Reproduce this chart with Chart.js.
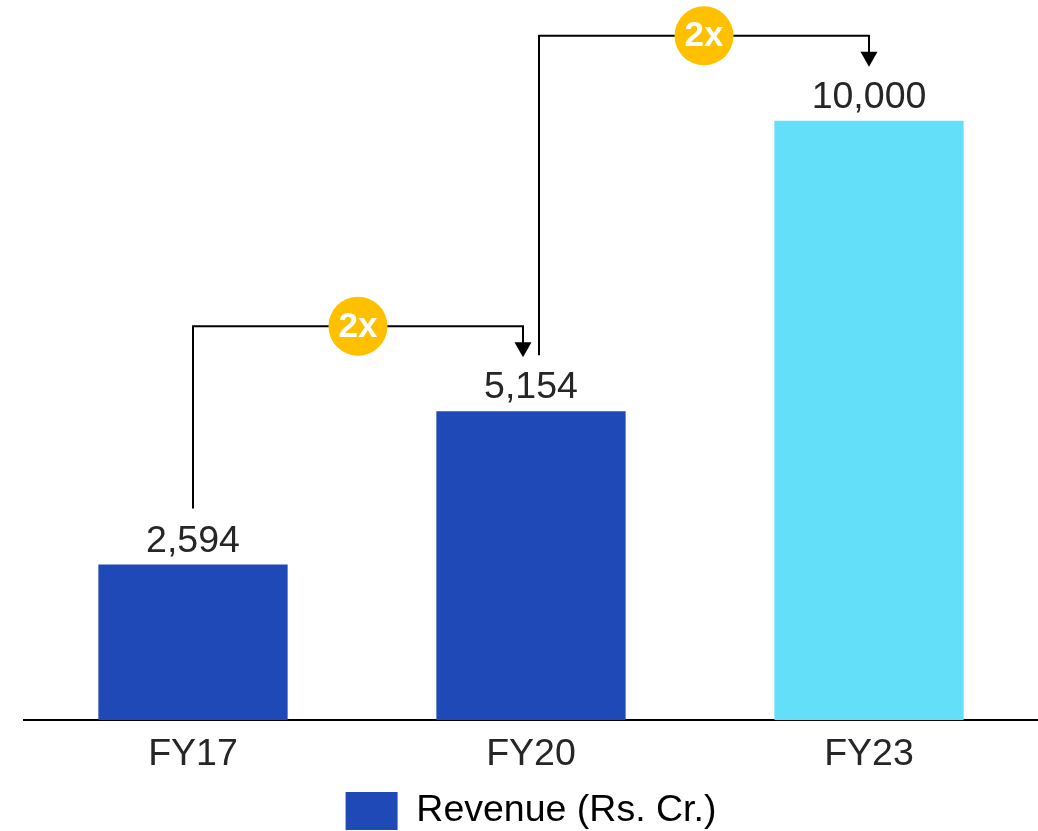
<!DOCTYPE html>
<html><head><meta charset="utf-8">
<script src="https://cdn.jsdelivr.net/npm/chart.js@4/dist/chart.umd.min.js"></script>
<style>html,body{margin:0;padding:0;background:#fff}#wrap{width:1038px;height:831px;position:relative}</style>
</head><body><div id="wrap"><canvas id="c"></canvas></div>
<script>
const categories = ['FY17', 'FY20', 'FY23'];
const revenue = [2594, 5154, 10000];
const seriesLabel = 'Revenue (Rs. Cr.)';
const growthFrom = [0, 1];
const growthTo = [1, 2];
const growthLabels = ['2x', '2x'];

const barColors = ['#1E49B7', '#1E49B7', '#63DFF9'];
const FONT = '"Liberation Sans", Arial, Helvetica, sans-serif';
const TEXT = '#262626';
const FS = 37.5;
Chart.defaults.font.family = FONT;

const valueLabels = {
  id: 'valueLabels',
  afterDatasetsDraw(chart) {
    const ctx = chart.ctx;
    const meta = chart.getDatasetMeta(0);
    ctx.save();
    ctx.font = FS + 'px ' + FONT;
    ctx.fillStyle = TEXT;
    ctx.textAlign = 'center';
    ctx.textBaseline = 'alphabetic';
    meta.data.forEach((bar, i) => {
      ctx.fillText(revenue[i].toLocaleString('en-US'), bar.x, bar.y - 13);
    });
    ctx.restore();
  }
};

const growthBrackets = {
  id: 'growthBrackets',
  afterDatasetsDraw(chart) {
    const ctx = chart.ctx;
    const bars = chart.getDatasetMeta(0).data;
    ctx.save();
    growthFrom.forEach((from, k) => {
      const to = growthTo[k];
      const src = bars[from], dst = bars[to];
      const srcHasIn = growthTo.includes(from);
      const dstHasOut = growthFrom.includes(to);
      const x1 = src.x + (srcHasIn ? 8 : 0);
      const x2 = dst.x - (dstHasOut ? 8 : 0);
      const yStart = src.y - 56;
      const yTop = dst.y - 85;
      const yTip = dst.y - 54;
      ctx.strokeStyle = '#000';
      ctx.lineWidth = 2;
      ctx.lineJoin = 'miter';
      ctx.beginPath();
      ctx.moveTo(x1, yStart);
      ctx.lineTo(x1, yTop);
      ctx.lineTo(x2, yTop);
      ctx.lineTo(x2, yTip - 14);
      ctx.stroke();
      ctx.fillStyle = '#000';
      ctx.beginPath();
      ctx.moveTo(x2 - 8.5, yTip - 15);
      ctx.lineTo(x2 + 8.5, yTip - 15);
      ctx.lineTo(x2, yTip);
      ctx.closePath();
      ctx.fill();
      const cx = (x1 + x2) / 2;
      ctx.fillStyle = '#FFC000';
      ctx.beginPath();
      ctx.arc(cx, yTop, 29.5, 0, Math.PI * 2);
      ctx.fill();
      ctx.fillStyle = '#FFFFFF';
      ctx.font = 'bold 35px ' + FONT;
      ctx.textAlign = 'center';
      ctx.textBaseline = 'middle';
      ctx.fillText(growthLabels[k], cx, yTop + 1);
    });
    ctx.restore();
  }
};

new Chart(document.getElementById('c'), {
  type: 'bar',
  data: {
    labels: categories,
    datasets: [{
      label: seriesLabel,
      data: revenue,
      backgroundColor: barColors,
      borderWidth: 0,
      barPercentage: 0.56,
      categoryPercentage: 1.0
    }]
  },
  options: {
    responsive: true,
    maintainAspectRatio: false,
    animation: false,
    devicePixelRatio: 1,
    layout: { padding: { left: 24, right: 0, top: 1, bottom: -9 } },
    plugins: {
      tooltip: { enabled: false },
      legend: {
        display: true,
        position: 'bottom',
        labels: {
          boxWidth: 52,
          boxHeight: 38,
          padding: 0,
          color: TEXT,
          font: { size: FS, family: FONT },
          generateLabels: () => [{
            text: seriesLabel,
            fillStyle: '#1E49B7',
            strokeStyle: '#1E49B7',
            lineWidth: 0,
            hidden: false,
            datasetIndex: 0
          }]
        }
      }
    },
    scales: {
      x: {
        grid: { display: false, drawTicks: false },
        border: { display: true, color: '#000', width: 2 },
        ticks: { color: TEXT, font: { size: FS, family: FONT }, padding: 12 },
        afterFit: (axis) => { axis.height += 3; }
      },
      y: {
        display: false,
        min: 0,
        max: 12000,
        grid: { display: false }
      }
    }
  },
  plugins: [valueLabels, growthBrackets]
});
</script>
</body></html>
